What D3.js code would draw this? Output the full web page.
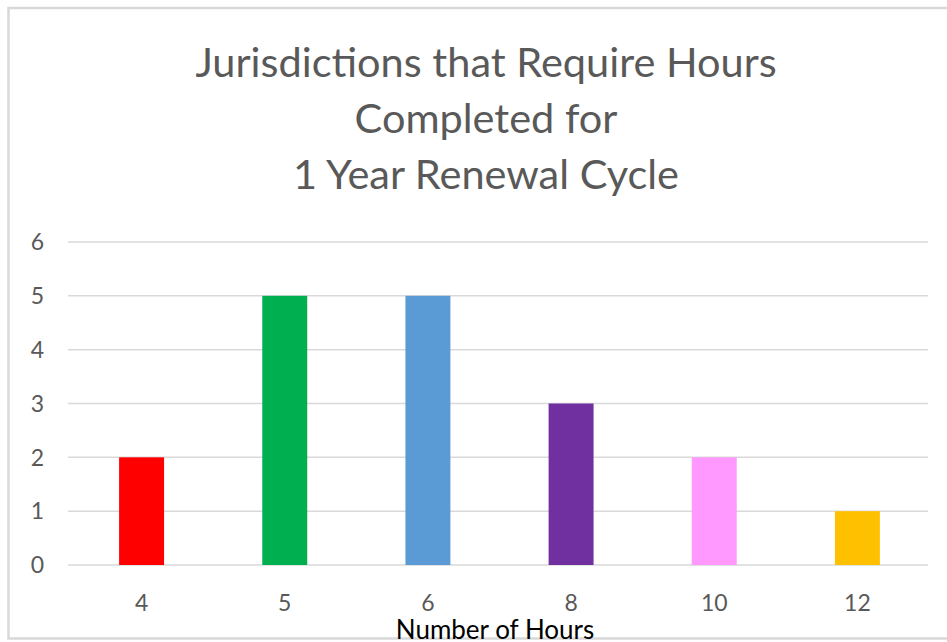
<!DOCTYPE html>
<html>
<head>
<meta charset="utf-8">
<script src="https://cdn.jsdelivr.net/npm/d3@7"></script>
<style>
  body { margin: 0; background: #fff; }
  text { font-family: Lato, "Open Sans", sans-serif; }
</style>
</head>
<body>
<svg width="947" height="642"></svg>
<script>
var titleLines = ["Jurisdictions that Require Hours", "Completed for", "1 Year Renewal Cycle"];
var hours = ["4", "5", "6", "8", "10", "12"];
var counts = [2, 5, 5, 3, 2, 1];
var barColors = ["#ff0000", "#00b050", "#5b9bd5", "#7030a0", "#ff99ff", "#ffc000"];
var yTicks = [0, 1, 2, 3, 4, 5, 6];
var xTitle = "Number of Hours";

var svg = d3.select("svg"),
    width = +svg.attr("width"),
    height = +svg.attr("height");

var margin = {top: 242, right: 19, bottom: 77, left: 68};

// chart frame
svg.append("rect")
    .attr("x", 8.5)
    .attr("y", 8)
    .attr("width", 960)
    .attr("height", 630.5)
    .attr("fill", "white")
    .attr("stroke", "#d9d9d9")
    .attr("stroke-width", 2.5);

var x = d3.scaleBand()
    .domain(hours)
    .range([70, 929])
    .paddingInner(0.686)
    .paddingOuter(0.343);

var y = d3.scaleLinear()
    .domain([0, 6])
    .range([height - margin.bottom, margin.top]);

// gridlines
svg.append("g")
    .selectAll("line")
    .data(yTicks)
    .enter().append("line")
    .attr("x1", margin.left)
    .attr("x2", width - margin.right)
    .attr("y1", function (d) { return y(d); })
    .attr("y2", function (d) { return y(d); })
    .attr("stroke", "#d9d9d9")
    .attr("stroke-width", 1.5);

// bars
svg.append("g")
    .selectAll("rect")
    .data(counts)
    .enter().append("rect")
    .attr("x", function (d, i) { return x(hours[i]); })
    .attr("y", function (d) { return y(d); })
    .attr("width", x.bandwidth())
    .attr("height", function (d) { return y(0) - y(d); })
    .attr("fill", function (d, i) { return barColors[i]; });

// y labels
svg.append("g")
    .selectAll("text")
    .data(yTicks)
    .enter().append("text")
    .attr("x", 44)
    .attr("y", function (d) { return y(d); })
    .attr("dy", "0.36em")
    .attr("text-anchor", "end")
    .attr("fill", "#595959")
    .style("font-size", "23px")
    .text(function (d) { return d; });

// x labels
svg.append("g")
    .selectAll("text")
    .data(hours)
    .enter().append("text")
    .attr("x", function (d) { return x(d) + x.bandwidth() / 2; })
    .attr("y", y(0) + 38)
    .attr("dy", "0.36em")
    .attr("text-anchor", "middle")
    .attr("fill", "#595959")
    .style("font-size", "23px")
    .text(function (d) { return d; });

// x title
svg.append("text")
    .attr("x", 495)
    .attr("y", 639)
    .attr("text-anchor", "middle")
    .attr("fill", "#000")
    .style("font-size", "26px")
    .text(xTitle);

// title
svg.append("g")
    .selectAll("text")
    .data(titleLines)
    .enter().append("text")
    .attr("x", 486)
    .attr("y", function (d, i) { return 62 + i * 56; })
    .attr("dy", "0.36em")
    .attr("text-anchor", "middle")
    .attr("fill", "#595959")
    .style("font-size", "41.5px")
    .text(function (d) { return d; });
</script>
</body>
</html>
